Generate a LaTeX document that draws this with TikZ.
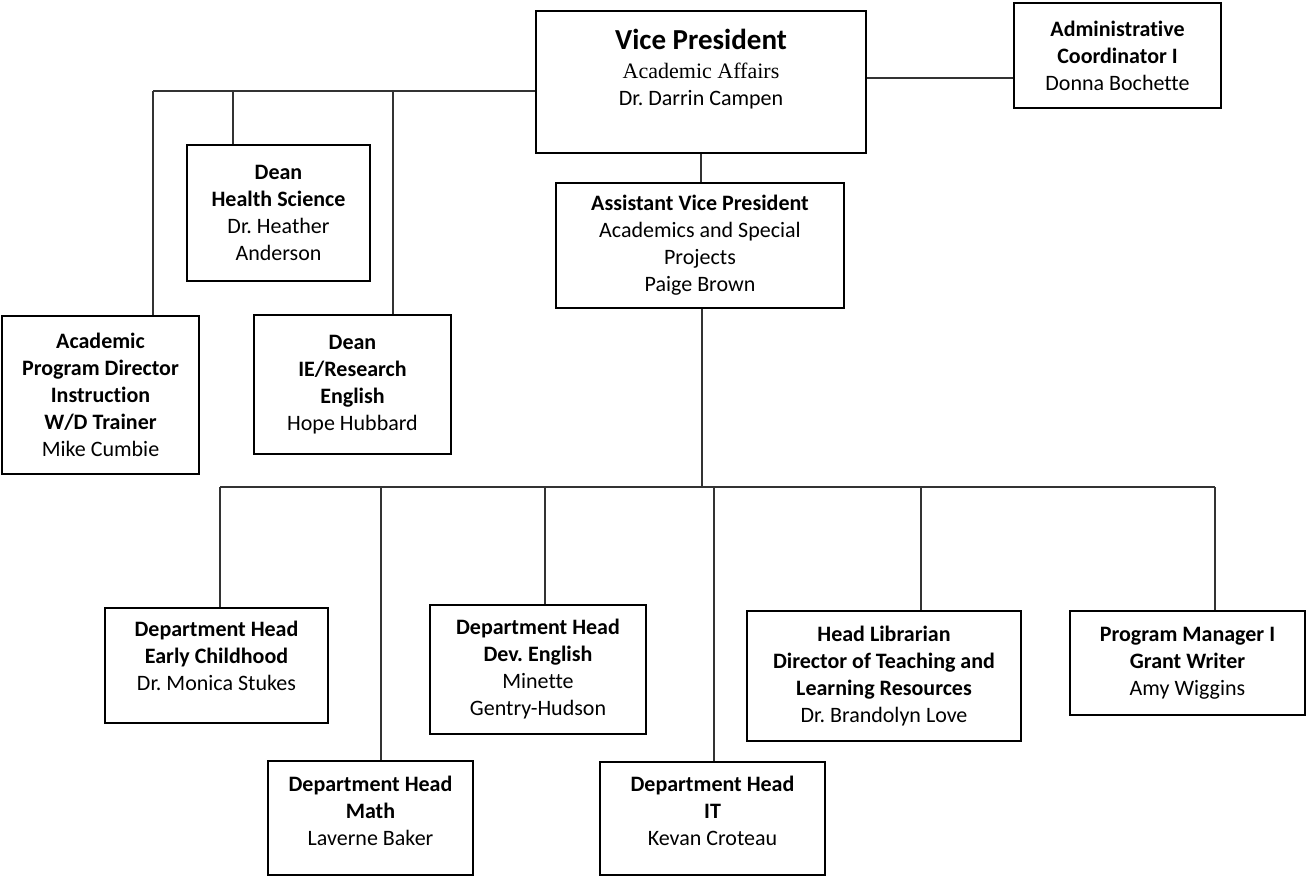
\documentclass[tikz,border=0pt]{standalone}
\usepackage{fontspec}
\setmainfont{Carlito}[Ligatures=NoCommon]
\newfontfamily\timesfont{Liberation Serif}
\frenchspacing
% strut that deepens the last line, lifting the text block inside its box
\newcommand\padbelow[1]{\rule[-#1]{0pt}{#1}}
\begin{document}
\begin{tikzpicture}[x=1pt, y=-1pt,
  box/.style={draw=black, line width=1.6pt, align=center, inner sep=0pt,
    font=\fontsize{22}{27}\selectfont},
  link/.style={draw=black!80, line width=1.4pt}]
\useasboundingbox (0,0) rectangle (1307,876);

% top level
\node[box, minimum width=330pt, minimum height=142pt] (vp) at (701,82)
  {{\fontsize{29}{32}\selectfont\bfseries Vice President}\\[2pt]
   {\timesfont Academic Affairs}\\
   Dr. Darrin Campen\padbelow{29pt}};
\node[box, minimum width=207pt, minimum height=105pt] (admin) at (1117.5,55.5)
  {\textbf{Administrative}\\ \textbf{Coordinator I}\\ Donna Bochette};
\node[box, minimum width=288pt, minimum height=125pt] (avp) at (700,245.5)
  {\textbf{Assistant Vice President}\\ Academics and Special\\ Projects\\ Paige Brown};

% left branch
\node[box, minimum width=183pt, minimum height=136pt] (health) at (278.5,213)
  {\textbf{Dean}\\ \textbf{Health Science}\\ Dr. Heather\\ Anderson};
\node[box, minimum width=197pt, minimum height=158pt] (acad) at (100.5,395)
  {\textbf{Academic}\\ \textbf{Program Director}\\ \textbf{Instruction}\\ \textbf{W/D Trainer}\\ Mike Cumbie};
\node[box, minimum width=197pt, minimum height=139pt] (ie) at (352.5,384.5)
  {\textbf{Dean}\\ \textbf{IE/Research}\\ \textbf{English}\\ Hope Hubbard};

% department row
\node[box, minimum width=223pt, minimum height=115pt] (ec) at (216.5,665.5)
  {\textbf{Department Head}\\ \textbf{Early Childhood}\\ Dr. Monica Stukes\padbelow{19pt}};
\node[box, minimum width=205pt, minimum height=114pt] (math) at (370.5,818)
  {\textbf{Department Head}\\ \textbf{Math}\\ Laverne Baker\padbelow{15pt}};
\node[box, minimum width=216pt, minimum height=129pt] (deveng) at (538,669.5)
  {\textbf{Department Head}\\ \textbf{Dev. English}\\ Minette\\ Gentry-Hudson};
\node[box, minimum width=225pt, minimum height=113pt] (it) at (712.5,818.5)
  {\textbf{Department Head}\\ \textbf{IT}\\ Kevan Croteau\padbelow{15pt}};
\node[box, minimum width=274pt, minimum height=130pt] (lib) at (884,676)
  {\textbf{Head Librarian}\\ \textbf{Director of Teaching and}\\ \textbf{Learning Resources}\\ Dr. Brandolyn Love};
\node[box, minimum width=235pt, minimum height=104pt] (pm) at (1187.5,663)
  {\textbf{Program Manager I}\\ \textbf{Grant Writer}\\ Amy Wiggins};

% bus junctions
\coordinate (lbusL) at (153,91);
\coordinate (dbus) at (702,487);
\coordinate (dbusL) at (220,487);
\coordinate (dbusR) at (1215,487);

% connectors from the vice president
\draw[link] (vp.south) -- (vp.south |- avp.north);
\draw[link] (vp.east |- 0,78) -- (admin.west |- 0,78);
\draw[link] (vp.west |- lbusL) -- (lbusL);
\draw[link] (lbusL) -- (lbusL |- acad.north);
\draw[link] (233,91) -- (233,0 |- health.north);
\draw[link] (393,91) -- (393,0 |- ie.north);

% connectors from the assistant vice president
\draw[link] (avp.south -| dbus) -- (dbus);
\draw[link] (dbusL) -- (dbusR);
\draw[link] (dbusL) -- (dbusL |- ec.north);
\draw[link] (381,487) -- (381,0 |- math.north);
\draw[link] (545,487) -- (545,0 |- deveng.north);
\draw[link] (714,487) -- (714,0 |- it.north);
\draw[link] (921,487) -- (921,0 |- lib.north);
\draw[link] (dbusR) -- (dbusR |- pm.north);
\end{tikzpicture}
\end{document}
